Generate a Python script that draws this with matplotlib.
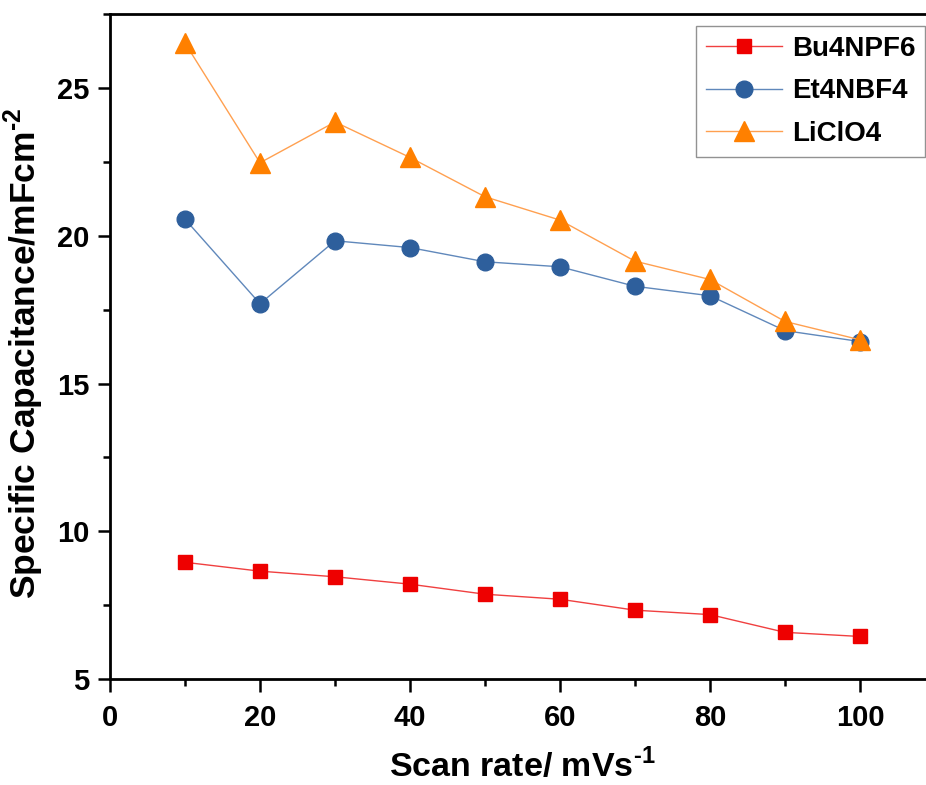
import matplotlib
matplotlib.use("Agg")
import matplotlib.pyplot as plt
from matplotlib.ticker import MultipleLocator

plt.rcParams['font.family'] = ['Liberation Sans', 'DejaVu Sans']
plt.rcParams['font.weight'] = 'bold'
plt.rcParams['mathtext.fontset'] = 'custom'
plt.rcParams['mathtext.rm'] = 'Liberation Sans:bold'
plt.rcParams['mathtext.bf'] = 'Liberation Sans:bold'

scan_rate = [10, 20, 30, 40, 50, 60, 70, 80, 90, 100]
bu4npf6 = [8.95, 8.65, 8.46, 8.21, 7.87, 7.70, 7.33, 7.18, 6.58, 6.44]
et4nbf4 = [20.56, 17.70, 19.83, 19.60, 19.12, 18.95, 18.29, 17.97, 16.79, 16.42]
liclo4 = [26.52, 22.47, 23.85, 22.65, 21.32, 20.53, 19.14, 18.52, 17.10, 16.48]

fig = plt.figure(figsize=(9.26, 7.85), dpi=100)
ax = fig.add_axes([0.1188, 0.135, 0.8812, 0.847])

ax.plot(scan_rate, bu4npf6, color='#f04040', lw=1.0, marker='s', ms=10,
        mfc='#ee0000', mec='#ee0000', label='Bu4NPF6')
ax.plot(scan_rate, et4nbf4, color='#6088bb', lw=1.0, marker='o', ms=12,
        mfc='#2e5f9c', mec='#2e5f9c', label='Et4NBF4')
ax.plot(scan_rate, liclo4, color='#ffa050', lw=1.0, marker='^', ms=14,
        mfc='#ff8000', mec='#ff8000', label='LiClO4')

ax.set_xlim(0, 108.8)
ax.set_ylim(5, 27.5)
ax.xaxis.set_major_locator(MultipleLocator(20))
ax.xaxis.set_minor_locator(MultipleLocator(10))
ax.yaxis.set_major_locator(MultipleLocator(5))
ax.yaxis.set_minor_locator(MultipleLocator(2.5))
ax.tick_params(which='major', direction='out', length=9, width=1.8, labelsize=21)
ax.tick_params(axis='x', which='major', pad=9)
ax.tick_params(axis='y', which='major', pad=6)
ax.tick_params(which='minor', direction='out', length=5, width=1.8)
ax.spines['right'].set_visible(False)
for s in ['left', 'bottom', 'top']:
    ax.spines[s].set_linewidth(2.0)

ax.set_xlabel('Scan rate/ mVs$^{\\text{-1}}$', fontsize=24.5, fontweight='bold')
ax.set_ylabel('Specific Capacitance/mFcm$^{\\text{-2}}$', fontsize=25.5, fontweight='bold')
# axes spans 816 px wide (x from 110) and 665 px tall (bottom at 679)
ax.xaxis.set_label_coords((522 - 110) / 816.0, -(748 - 679) / 665.0)
ax.yaxis.set_label_coords(-(110 - 46) / 816.0, 0.49)

leg = ax.legend(loc='upper right', bbox_to_anchor=(925 / 926, 1 - 26 / 785), bbox_transform=fig.transFigure,
                borderaxespad=0, fontsize=20, frameon=True, fancybox=False, edgecolor='#777777',
                handlelength=2.75, borderpad=0.35, labelspacing=0.6, handletextpad=0.35)
leg.get_frame().set_linewidth(1.0)
for t in leg.get_texts():
    t.set_fontweight('bold')

fig.savefig('out.png', dpi=100)
